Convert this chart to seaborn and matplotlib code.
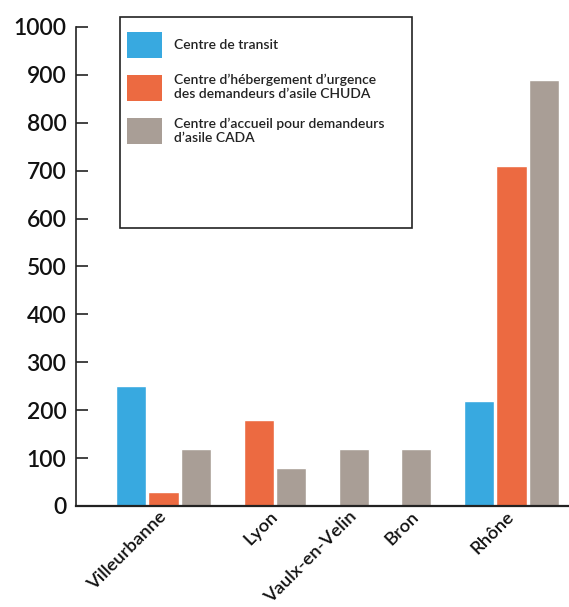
import matplotlib
matplotlib.use("Agg")
import matplotlib.pyplot as plt
import seaborn as sns
import pandas as pd
from matplotlib.patches import Patch, Rectangle

# Places d'hébergement par commune et par type de structure
cities = ["Villeurbanne", "Lyon", "Vaulx-en-Velin", "Bron", "Rhône"]
series = [
    "Centre de transit",
    "Centre d’hébergement d’urgence\ndes demandeurs d’asile CHUDA",
    "Centre d’accueil pour demandeurs\nd’asile CADA",
]
transit = [250, 0, 0, 0, 220]
chuda = [30, 180, 0, 0, 710]
cada = [120, 80, 120, 120, 890]
y_ticks = [0, 100, 200, 300, 400, 500, 600, 700, 800, 900, 1000]

colors = ["#38A9E0", "#EC6A41", "#A99E96"]

sns.set_theme(style="white")
plt.rcParams["font.family"] = ["Lato", "DejaVu Sans"]
plt.rcParams["font.weight"] = "semibold"

# Pack each city's non-empty bars side by side, leaving a gap between cities
GAP = 0.92
rows, centers = [], []
pos = 0.0
for i, city in enumerate(cities):
    start = pos
    for name, vals in zip(series, (transit, chuda, cada)):
        if vals[i] > 0:
            rows.append({"city": city, "series": name, "value": vals[i], "pos": pos})
            pos += 1
    centers.append((start + pos - 1) / 2)
    pos += GAP
df = pd.DataFrame(rows)

W, H = 569, 607
fig = plt.figure(figsize=(W / 100, H / 100), dpi=100)
ax = fig.add_axes([76 / W, 101 / H, 493 / W, 479 / H])

sns.barplot(data=df, x="pos", y="value", hue="series", hue_order=series,
            palette=colors, saturation=1, native_scale=True, dodge=False,
            width=0.93, errorbar=None, legend=False, ax=ax)

ax.set_xlim(-1.69, 13.45)
ax.set_ylim(0, 1000)
ax.set_yticks(y_ticks)
ax.set_xticks(centers, cities, rotation=45, ha="right", va="center",
              rotation_mode="anchor")
ax.set_xlabel("")
ax.set_ylabel("")
ax.tick_params(axis="x", length=0, pad=6, labelsize=13.3, labelcolor="#111")
ax.tick_params(axis="y", direction="in", length=8.5, width=1.2, color="#222",
               pad=7, labelsize=16.5, labelcolor="#111", left=True)

for side in ("top", "right"):
    ax.spines[side].set_visible(False)
ax.spines["left"].set_color("#222")
ax.spines["left"].set_linewidth(1.2)
ax.spines["bottom"].set_color("#222")
ax.spines["bottom"].set_linewidth(1.6)

handles = [Patch(facecolor=c, edgecolor="none") for c in colors]
fig.legend(handles, series, loc="upper left",
           bbox_to_anchor=(127 / W, 1 - 31.7 / H), frameon=False,
           fontsize=10, handlelength=2.55, handleheight=2.55,
           handletextpad=0.8, labelspacing=1.15, borderpad=0,
           borderaxespad=0, labelcolor="#222")
fig.add_artist(Rectangle((120 / W, 1 - 228 / H), 292 / W, 211 / H,
                         transform=fig.transFigure, fill=False,
                         edgecolor="#222", linewidth=1.2))

fig.savefig("out.png", dpi=100)
